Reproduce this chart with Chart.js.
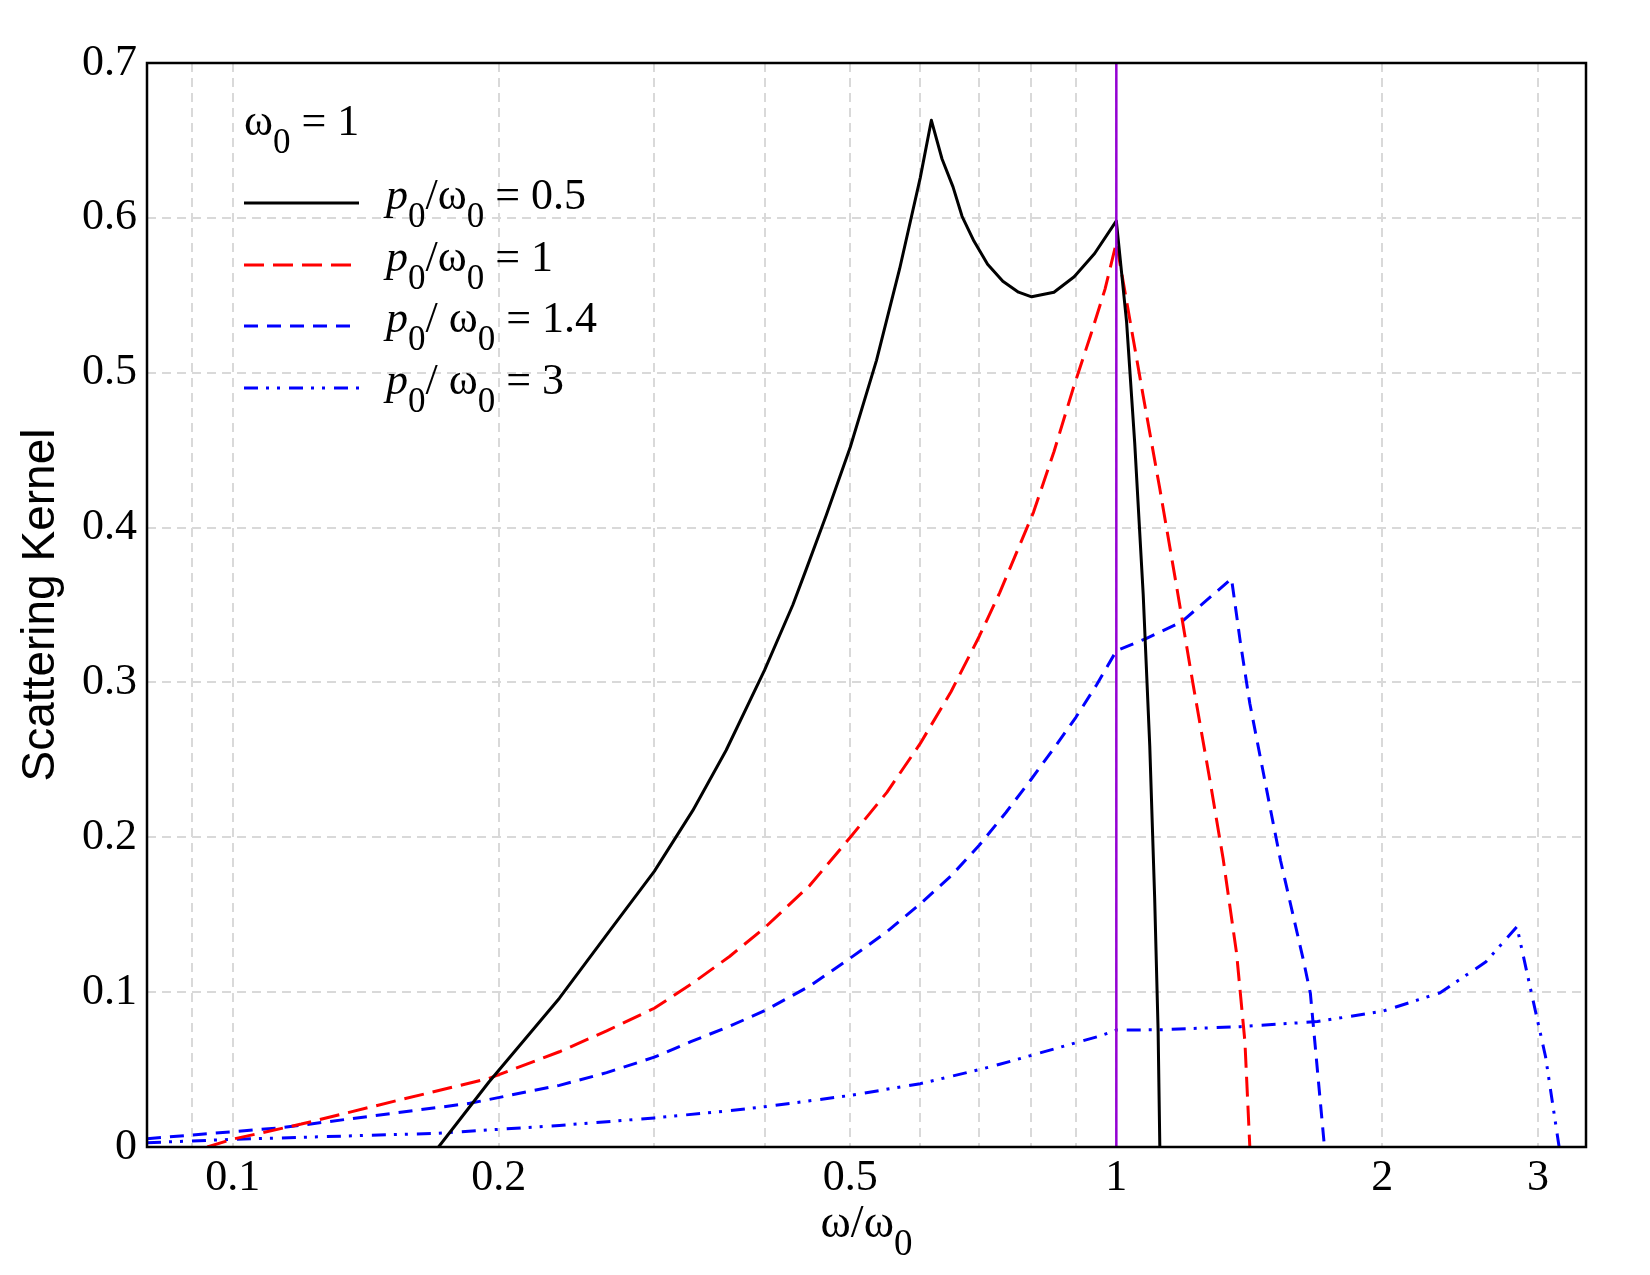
<!DOCTYPE html>
<html lang="en">
<head>
<meta charset="UTF-8">
<title>Scattering Kernel</title>
<script src="https://cdn.jsdelivr.net/npm/chart.js"></script>
<style>
    body {
        margin: 0;
        background: #ffffff;
    }

    #wrap {
        width: 1650px;
        height: 1275px;
    }
</style>
</head>
<body>
<div id="wrap"><canvas id="kernel" width="1650" height="1275"></canvas></div>

<script>
    // values, x = omega / omega0
    const xHalf = [0.171, 0.195, 0.2343, 0.2669, 0.3, 0.3316, 0.3618, 0.4, 0.4304, 0.4457, 0.4696, 0.5, 0.5353, 0.5685, 0.6, 0.6176, 0.635, 0.6534, 0.669, 0.69, 0.715, 0.744, 0.775, 0.802, 0.85, 0.896, 0.945, 1.0, 1.027, 1.049, 1.0725, 1.091, 1.105, 1.115, 1.12];
    const yHalf = [0, 0.042, 0.0961, 0.1394, 0.178, 0.2172, 0.2562, 0.3081, 0.350, 0.373, 0.408, 0.452, 0.508, 0.567, 0.626, 0.663, 0.638, 0.620, 0.601, 0.585, 0.570, 0.559, 0.552, 0.549, 0.552, 0.562, 0.577, 0.598, 0.533, 0.4548, 0.3569, 0.259, 0.161, 0.075, 0];

    const xOne = [0.0936, 0.0999, 0.1196, 0.1535, 0.195, 0.2343, 0.265, 0.3, 0.33, 0.365, 0.4, 0.45, 0.5, 0.55, 0.6, 0.65, 0.7, 0.738, 0.806, 0.85, 0.896, 0.935, 0.971, 1.0, 1.0725, 1.12, 1.17, 1.222, 1.276, 1.321, 1.368, 1.398, 1.416];
    const yOne = [0, 0.005, 0.0148, 0.030, 0.0443, 0.0615, 0.075, 0.0896, 0.105, 0.123, 0.1416, 0.169, 0.2, 0.229, 0.2606, 0.294, 0.33, 0.358, 0.410, 0.449, 0.492, 0.524, 0.554, 0.584, 0.485, 0.425, 0.362, 0.298, 0.237, 0.186, 0.125, 0.068, 0];

    const xOneFour = [0.08, 0.1138, 0.1855, 0.2343, 0.265, 0.3, 0.33, 0.365, 0.4, 0.45, 0.5, 0.55, 0.6, 0.65, 0.7, 0.75, 0.8, 0.85, 0.9, 0.95, 1.0, 1.082, 1.185, 1.35, 1.381, 1.416, 1.492, 1.534, 1.628, 1.658, 1.72];
    const yOneFour = [0.0054, 0.0125, 0.0282, 0.0398, 0.048, 0.058, 0.068, 0.078, 0.088, 0.104, 0.122, 0.139, 0.157, 0.175, 0.195, 0.216, 0.237, 0.2575, 0.2775, 0.2985, 0.3204, 0.3285, 0.339, 0.367, 0.3265, 0.2864, 0.2199, 0.185, 0.1207, 0.0992, 0];

    const xThree = [0.08, 0.1009, 0.1696, 0.2343, 0.3, 0.365, 0.4, 0.5, 0.6, 0.7, 0.738, 0.958, 1.0, 1.119, 1.381, 1.689, 2.005, 2.325, 2.62, 2.84, 2.95, 3.06, 3.17];
    const yThree = [0.0028, 0.005, 0.0088, 0.0139, 0.0188, 0.0234, 0.026, 0.0333, 0.0409, 0.050, 0.0534, 0.0717, 0.0755, 0.0757, 0.0777, 0.081, 0.0878, 0.0996, 0.1196, 0.1422, 0.0992, 0.0583, 0];

    // marker line at omega = omega0
    const xMarker = [1, 1];
    const yMarker = [0, 0.7];

    const ratioLabels = ['0.5', '1', '1.4', '3'];
    const xGridValues = [0.09, 0.1, 0.2, 0.3, 0.4, 0.5, 0.6, 0.7, 0.8, 0.9, 1, 2, 3];
    const xTickLabels = [0.1, 0.2, 0.5, 1, 2, 3];

    const SERIF = 'Liberation Serif';
    const colors = ['#000000', '#ff0000', '#0000ff', '#0000ff'];
    const dashes = [[], [20, 9], [14, 9], [14, 8, 3, 8, 3, 9]];

    function toPoints(xs, ys) {
        return xs.map((x, i) => ({ x: x, y: ys[i] }));
    }

    // draws a label made of pieces, some italic, some as subscripts
    function drawPieces(ctx, x, y, pieces, size) {
        ctx.textAlign = 'left';
        ctx.textBaseline = 'alphabetic';
        for (const p of pieces) {
            const s = p.sub ? Math.round(size * 0.8) : size;
            ctx.font = (p.italic ? 'italic ' : '') + s + 'px "' + SERIF + '"';
            ctx.fillText(p.t, x, y + (p.sub ? size * 0.4 : 0));
            x += ctx.measureText(p.t).width;
        }
        return x;
    }

    function piecesWidth(ctx, pieces, size) {
        let w = 0;
        for (const p of pieces) {
            const s = p.sub ? Math.round(size * 0.8) : size;
            ctx.font = (p.italic ? 'italic ' : '') + s + 'px "' + SERIF + '"';
            w += ctx.measureText(p.t).width;
        }
        return w;
    }

    const overlay = {
        id: 'overlay',
        afterDraw(chart) {
            const ctx = chart.ctx;
            const a = chart.chartArea;
            ctx.save();

            // plot frame
            ctx.setLineDash([]);
            ctx.strokeStyle = '#000';
            ctx.lineWidth = 2.5;
            ctx.strokeRect(a.left, a.top, a.right - a.left, a.bottom - a.top);

            ctx.fillStyle = '#000';

            // legend heading
            drawPieces(ctx, 244, 135, [
                { t: 'ω' }, { t: '0', sub: true }, { t: ' = 1' }
            ], 44);

            // legend rows
            const rowY = [203, 265, 326, 388];
            ratioLabels.forEach((r, i) => {
                ctx.beginPath();
                ctx.strokeStyle = colors[i];
                ctx.lineWidth = 3;
                ctx.setLineDash(dashes[i]);
                ctx.moveTo(244, rowY[i]);
                ctx.lineTo(359, rowY[i]);
                ctx.stroke();
                ctx.setLineDash([]);
                drawPieces(ctx, 386, rowY[i] + 6, [
                    { t: 'p', italic: true }, { t: '0', sub: true },
                    { t: i < 2 ? '/' : '/ ' }, { t: 'ω' }, { t: '0', sub: true },
                    { t: ' = ' + r }
                ], 44);
            });

            // x axis title
            const xt = [{ t: 'ω/ω' }, { t: '0', sub: true }];
            const w = piecesWidth(ctx, xt, 46);
            drawPieces(ctx, (a.left + a.right) / 2 - w / 2, 1237, xt, 46);

            ctx.restore();
        }
    };

    const ctx = document.getElementById('kernel').getContext('2d');
    new Chart(ctx, {
        type: 'line',
        data: {
            datasets: [
                {
                    label: 'omega0',
                    data: toPoints(xMarker, yMarker),
                    borderColor: '#9400d3',
                    borderWidth: 2.5
                },
                {
                    label: 'p0/omega0 = 0.5',
                    data: toPoints(xHalf, yHalf),
                    borderColor: colors[0],
                    borderWidth: 3,
                    borderDash: dashes[0]
                },
                {
                    label: 'p0/omega0 = 1',
                    data: toPoints(xOne, yOne),
                    borderColor: colors[1],
                    borderWidth: 3,
                    borderDash: dashes[1]
                },
                {
                    label: 'p0/omega0 = 1.4',
                    data: toPoints(xOneFour, yOneFour),
                    borderColor: colors[2],
                    borderWidth: 3,
                    borderDash: dashes[2]
                },
                {
                    label: 'p0/omega0 = 3',
                    data: toPoints(xThree, yThree),
                    borderColor: colors[3],
                    borderWidth: 3,
                    borderDash: dashes[3]
                }
            ]
        },
        options: {
            responsive: false,
            animation: false,
            layout: {
                padding: { top: 63, right: 64, left: 0, bottom: 0 }
            },
            elements: {
                point: { radius: 0 },
                line: { tension: 0, fill: false, borderJoinStyle: 'round' }
            },
            plugins: {
                legend: { display: false },
                tooltip: { enabled: false }
            },
            scales: {
                x: {
                    type: 'logarithmic',
                    min: 0.08,
                    max: 3.4,
                    afterBuildTicks: s => {
                        s.ticks = xGridValues.map(v => ({ value: v }));
                    },
                    afterFit: s => {
                        s.height = 128;
                    },
                    ticks: {
                        autoSkip: false,
                        maxRotation: 0,
                        padding: 5,
                        color: '#000',
                        font: { family: SERIF, size: 44 },
                        callback: v => xTickLabels.includes(v) ? String(v) : ''
                    },
                    grid: { color: '#d9d9d9', lineWidth: 2, drawTicks: false },
                    border: { display: false, dash: [9, 6] }
                },
                y: {
                    min: 0,
                    max: 0.7,
                    afterFit: s => {
                        s.width = 147;
                    },
                    ticks: {
                        stepSize: 0.1,
                        padding: 10,
                        color: '#000',
                        font: { family: SERIF, size: 44 },
                        callback: v => v === 0 ? '0' : v.toFixed(1)
                    },
                    grid: { color: '#d9d9d9', lineWidth: 2, drawTicks: false },
                    border: { display: false, dash: [9, 6] },
                    title: {
                        display: true,
                        text: 'Scattering Kernel',
                        color: '#000',
                        font: { family: 'Liberation Sans', size: 46 },
                        padding: { top: 14, bottom: 0 }
                    }
                }
            }
        },
        plugins: [overlay]
    });
</script>
</body>
</html>
